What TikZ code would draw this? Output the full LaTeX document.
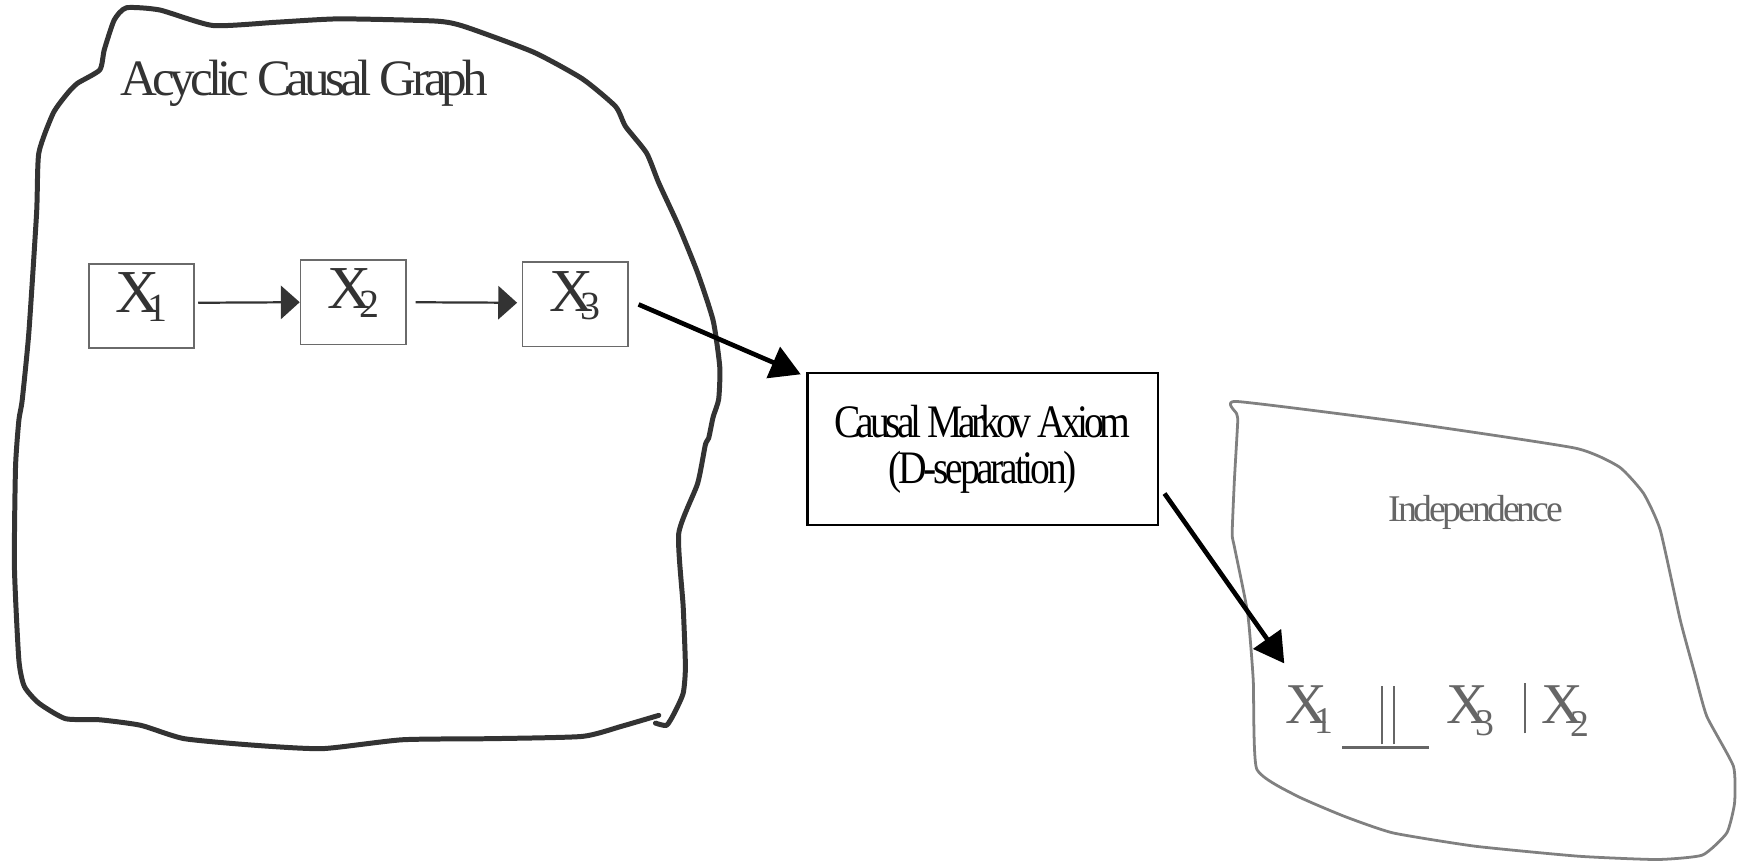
\documentclass[tikz,border=0pt]{standalone}
\usepackage{fontspec}
\setmainfont{Liberation Serif}
\newfontfamily\axiomfont[FakeStretch=0.85]{Liberation Serif}
\usetikzlibrary{arrows.meta}

\definecolor{ink}{HTML}{333333}
\definecolor{boxgray}{HTML}{6A6A6A}
\definecolor{softgray}{HTML}{808080}
\definecolor{textgray}{HTML}{666666}

% a variable X with a large, tucked-in numeric subscript
% #1 size of X, #2 size of index, #3 index, #4 kern, #5 drop of index
\newcommand{\xvar}[5]{{\fontsize{#1}{#1}\selectfont X}\kern#4\raisebox{-#5}{\fontsize{#2}{#2}\selectfont #3}}
% the "independent of" sign: two bars standing on a long underline
\newcommand{\indepsym}{\rlap{\rule[-22.8pt]{78pt}{2pt}}\kern35.4pt\rule[-19pt]{1.6pt}{52.4pt}\kern9.4pt\rule[-19pt]{1.6pt}{52.4pt}\kern30pt}

\tikzset{
  varbox/.style={draw=boxgray, line width=1.5pt, minimum width=95pt, minimum height=76pt,
    inner sep=0pt, text=ink, text height=36pt, text depth=24pt},
  thinarrow/.style={draw=ink, line width=2pt, -{Triangle[length=17pt,width=30pt]}},
  bigarrow/.style={draw=black, line width=4.2pt, -{Triangle[length=27pt,width=30pt]}},
  region/.style={draw=ink, line width=4.5pt, line join=round, line cap=round},
  softregion/.style={draw=softgray, line width=2.5pt, line join=round},
}

\begin{document}
\begin{tikzpicture}[x=1pt, y=-1pt]
\useasboundingbox (0,0) rectangle (1568,778);
\fill[white] (0,0) rectangle (1568,778);

% hand-drawn outline of the graph region
\draw[region] plot[smooth, tension=0.35] coordinates {
  (594,645) (560,655) (525,664) (445,666) (363,667) (291,675) (230,672) (166,666)
  (127,654) (90,649) (59,648) (35,634) (22,619) (17,595) (13,511) (14,421) (17,379)
  (20,361) (26,300) (33,192) (35,138) (48,102) (61,84) (70,75) (90,63) (94,45)
  (103,18) (114,7) (144,9) (192,23) (250,20) (306,17) (393,19) (419,24) (481,47)
  (525,71) (555,96) (564,114) (583,138) (594,165) (612,204) (629,246) (643,289)
  (649,331) (648,360) (643,376) (639,395) (636,401) (629,436) (612,481) (616,547)
  (618,601) (616,625) (608,643) (601,654) (591,652)};

% hand-drawn outline of the independence region
\draw[softregion] plot[smooth cycle, tension=0.3] coordinates {
  (1115,362) (1268,381) (1420,404) (1460,421) (1482,445) (1497,478) (1515,559)
  (1528,607) (1539,646) (1563,691) (1564,724) (1557,751) (1535,771) (1494,775)
  (1423,772) (1330,763) (1256,751) (1212,736) (1168,717) (1133,693) (1130,613)
  (1125,553) (1113,493) (1111,481) (1113,433) (1116,380) (1115,373)};

% titles of the two regions
\node[anchor=base west, inner sep=0pt, text=ink,
  font=\fontsize{46}{46}\selectfont\addfontfeatures{LetterSpace=-9.5}]
  (title) at (108,86) {Acyclic Causal Graph};
\node[anchor=base west, inner sep=0pt, text=textgray,
  font=\fontsize{34}{34}\selectfont\addfontfeatures{LetterSpace=-8.5}]
  (indtitle) at (1252,470) {Independence};

% the causal chain
\node[varbox] (X1) at (127.5,276)   {\xvar{55pt}{36pt}{1}{-11pt}{7.5pt}};
\node[varbox] (X2) at (318.5,272.5) {\xvar{55pt}{36pt}{2}{-11pt}{7.5pt}};
\node[varbox] (X3) at (518.5,274.5) {\xvar{55pt}{36pt}{3}{-11pt}{7.5pt}};

\draw[thinarrow, shorten <=3pt] ([yshift=3pt]X1.east) -- (X2.west);
\draw[thinarrow, shorten <=8pt, shorten >=4pt] (X2.east) -- ([yshift=1.5pt]X3.west);

% the axiom
\node[draw=black, line width=2pt, minimum width=316pt, minimum height=137pt,
  align=center, inner sep=0pt,
  font=\axiomfont\fontsize{42}{41}\selectfont]
  (cma) at (886,405)
  {{\addfontfeatures{LetterSpace=-9}Causal Markov Axiom}\\
   {\addfontfeatures{LetterSpace=-7}(D-separation)}};

% the resulting statement
\node[anchor=base west, inner sep=0pt, text=textgray] (indep) at (1159,652.2)
  {\xvar{52pt}{34pt}{1}{-11.3pt}{9pt}\kern7.6pt\indepsym\kern16.5pt%
   \xvar{52pt}{34pt}{3}{-12pt}{11pt}\kern27pt\rule[-9pt]{2pt}{45pt}\kern14pt%
   \xvar{52pt}{34pt}{2}{-12pt}{12pt}};

\coordinate (tipA) at ([shift={(-5pt,-2pt)}]cma.north west);
\coordinate (tipB) at ([shift={(-1pt,54pt)}]indep.base west);

\draw[bigarrow] ([xshift=9pt]X3.east) -- (tipA);
\draw[bigarrow] ([shift={(5pt,-40pt)}]cma.east) -- (tipB);
\end{tikzpicture}
\end{document}
